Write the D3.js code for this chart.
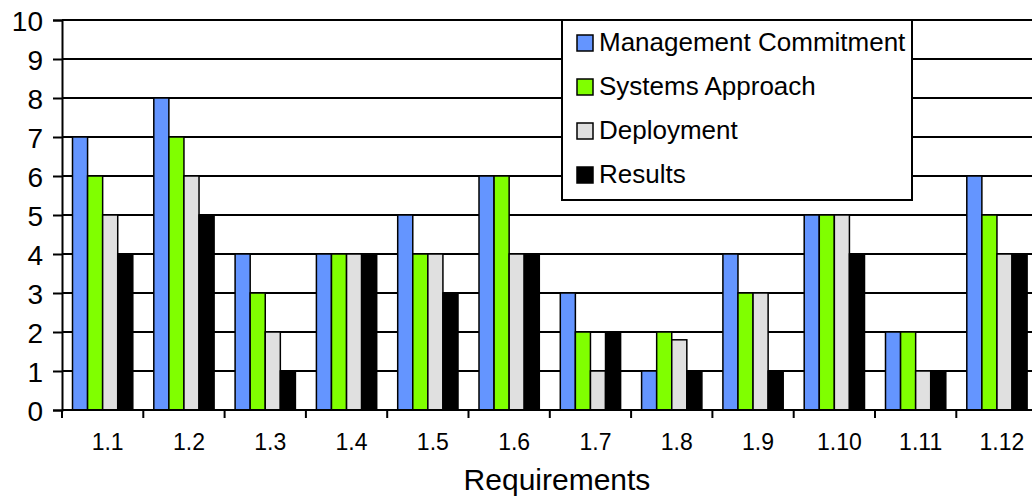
<!DOCTYPE html>
<html>
<head>
<meta charset="utf-8">
<script src="https://cdn.jsdelivr.net/npm/d3@7"></script>
<style>
  html, body { margin: 0; padding: 0; background: #fff; }
  svg { display: block; font-family: "Liberation Sans", Arial, sans-serif; }
</style>
</head>
<body>
<svg id="chart" width="1032" height="496"></svg>
<script>
// Scores per requirement for each assessment dimension
const categories = ["1.1","1.2","1.3","1.4","1.5","1.6","1.7","1.8","1.9","1.10","1.11","1.12"];
const seriesNames = ["Management Commitment","Systems Approach","Deployment","Results"];
const managementCommitment = [7, 8, 4, 4, 5, 6, 3, 1, 4, 5, 2, 6];
const systemsApproach      = [6, 7, 3, 4, 4, 6, 2, 2, 3, 5, 2, 5];
const deployment           = [5, 6, 2, 4, 4, 4, 1, 1.8, 3, 5, 1, 4];
const results              = [4, 5, 1, 4, 3, 4, 2, 1, 1, 4, 1, 4];
const yTicks = [0,1,2,3,4,5,6,7,8,9,10];
const seriesColors = ["#6495FF", "#80FF00", "#E0E0E0", "#000000"];

const values = [managementCommitment, systemsApproach, deployment, results];

const svg = d3.select("#chart");
const plotLeft = 62, plotTop = 20, plotBottom = 410;
const step = 81.3;
const plotRight = plotLeft + step * categories.length;

const x = d3.scaleBand().domain(categories).range([plotLeft, plotRight]).padding(0);
const xs = d3.scaleBand().domain(d3.range(seriesNames.length))
  .range([10.5, step - 10.5]).padding(0);
const y = d3.scaleLinear().domain([0, 10]).range([plotBottom, plotTop]);

// horizontal gridlines
svg.append("g")
  .selectAll("line")
  .data(yTicks.slice(1))
  .join("line")
  .attr("x1", plotLeft).attr("x2", plotRight)
  .attr("y1", d => y(d)).attr("y2", d => y(d))
  .attr("stroke", "#000").attr("stroke-width", 2);

// bars
const groups = svg.append("g")
  .selectAll("g")
  .data(categories)
  .join("g")
  .attr("transform", d => `translate(${x(d)},0)`);

groups.selectAll("rect")
  .data((c, i) => values.map((v, s) => ({ s, v: v[i] })))
  .join("rect")
  .attr("x", d => xs(d.s))
  .attr("width", xs.bandwidth())
  .attr("y", d => y(d.v))
  .attr("height", d => y(0) - y(d.v))
  .attr("fill", d => seriesColors[d.s])
  .attr("stroke", "#000")
  .attr("stroke-width", 1.5);

// y axis
const yAxis = d3.axisLeft(y).tickValues(yTicks).tickSize(9).tickPadding(10).tickFormat(d3.format("d"));
const gy = svg.append("g").attr("transform", `translate(${plotLeft},0)`).call(yAxis);
gy.select(".domain").attr("stroke", "#000").attr("stroke-width", 2);
gy.selectAll(".tick line").attr("stroke", "#000").attr("stroke-width", 2);
gy.selectAll(".tick text")
  .attr("font-size", 28).attr("fill", "#000").attr("dy", "0.38em")
  .attr("font-family", "'Liberation Sans', Arial, sans-serif");

// x axis: ticks at category boundaries, labels centred in each category
const gx = svg.append("g").attr("transform", `translate(0,${plotBottom})`);
gx.append("line").attr("x1", plotLeft).attr("x2", plotRight).attr("stroke", "#000").attr("stroke-width", 2);
gx.selectAll(".bound")
  .data(d3.range(categories.length + 1))
  .join("line")
  .attr("class", "bound")
  .attr("x1", i => plotLeft + i * x.step()).attr("x2", i => plotLeft + i * x.step())
  .attr("y1", 0).attr("y2", 8)
  .attr("stroke", "#000").attr("stroke-width", 2);
gx.selectAll("text")
  .data(categories)
  .join("text")
  .attr("x", d => x(d) + x.bandwidth() / 2 + 5)
  .attr("y", 40)
  .attr("text-anchor", "middle")
  .attr("font-size", 23)
  .attr("fill", "#000")
  .text(d => d);

// axis title
svg.append("text")
  .attr("x", 557).attr("y", 490)
  .attr("text-anchor", "middle")
  .attr("font-size", 30)
  .attr("fill", "#000")
  .text("Requirements");

// legend
const legend = svg.append("g").attr("transform", "translate(562,20)");
legend.append("rect")
  .attr("width", 350).attr("height", 180)
  .attr("fill", "#fff").attr("stroke", "#000").attr("stroke-width", 2);
const items = legend.selectAll(".item")
  .data(seriesNames)
  .join("g")
  .attr("class", "item")
  .attr("transform", (d, i) => `translate(15,${31 + i * 44})`);
items.append("rect")
  .attr("x", 0).attr("y", -16)
  .attr("width", 16).attr("height", 16)
  .attr("fill", (d, i) => seriesColors[i])
  .attr("stroke", "#000").attr("stroke-width", 1.5);
items.append("text")
  .attr("x", 22).attr("y", 0)
  .attr("font-size", 26)
  .attr("fill", "#000")
  .text(d => d);
</script>
</body>
</html>
